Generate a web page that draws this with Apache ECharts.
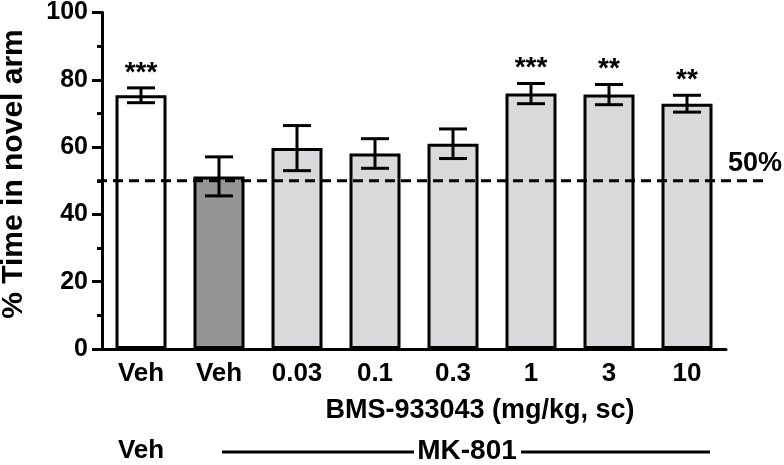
<!DOCTYPE html>
<html>
<head>
<meta charset="utf-8">
<script src="https://cdn.jsdelivr.net/npm/echarts@6/dist/echarts.min.js"></script>
<style>
html,body{margin:0;padding:0;background:#fff;}
#main{width:784px;height:465px;}
</style>
</head>
<body>
<div id="main"></div>
<script>
const categories = ['Veh', 'Veh', '0.03', '0.1', '0.3', '1', '3', '10'];
const means = [75.4, 51.3, 59.7, 58.1, 61.0, 75.9, 75.6, 72.9];
const errors = [2.2, 5.8, 6.7, 4.4, 4.4, 3.0, 3.0, 2.5];
const stars = ['***', '', '', '', '', '***', '**', '**'];
const fills = ['#ffffff', '#959595', '#d9d9db', '#d9d9db', '#d9d9db', '#d9d9db', '#d9d9db', '#d9d9db'];
const yTicks = [0, 20, 40, 60, 80, 100];
const chanceLevel = 50;

const FONT = '"Liberation Sans", Arial, Helvetica, sans-serif';
const chart = echarts.init(document.getElementById('main'), null, {renderer: 'canvas'});

const option = {
  animation: false,
  backgroundColor: '#ffffff',
  grid: {left: 102, right: 58, top: 12, bottom: 116},
  xAxis: {
    type: 'category',
    data: categories,
    axisLine: {lineStyle: {color: '#000', width: 3}},
    axisTick: {show: false},
    axisLabel: {color: '#000', fontFamily: FONT, fontWeight: 'bold', fontSize: 26, margin: 12}
  },
  yAxis: {
    type: 'value',
    min: yTicks[0],
    max: yTicks[yTicks.length - 1],
    interval: yTicks[1] - yTicks[0],
    axisLine: {show: true, lineStyle: {color: '#000', width: 3}},
    axisTick: {show: true, length: 10, lineStyle: {color: '#000', width: 3}},
    minorTick: {show: true, splitNumber: 2, length: 5, lineStyle: {color: '#000', width: 3}},
    splitLine: {show: false},
    axisLabel: {color: '#000', fontFamily: FONT, fontWeight: 'bold', fontSize: 25, margin: 14}
  },
  series: [
    {
      type: 'bar',
      barWidth: 51,
      data: means.map((v, i) => ({value: v, itemStyle: {color: fills[i]}})),
      itemStyle: {borderColor: '#000', borderWidth: 3},
      z: 2
    },
    {
      type: 'custom',
      z: 5,
      data: means.map((v, i) => [i, v, errors[i]]),
      renderItem: function (params, api) {
        const i = api.value(0);
        const m = api.value(1);
        const e = api.value(2);
        const top = api.coord([i, m + e]);
        const bot = api.coord([i, m - e]);
        const hw = 14;
        const style = {stroke: '#000', lineWidth: 3};
        const children = [
          {type: 'line', shape: {x1: top[0], y1: top[1], x2: bot[0], y2: bot[1]}, style: style},
          {type: 'line', shape: {x1: top[0] - hw, y1: top[1], x2: top[0] + hw, y2: top[1]}, style: style},
          {type: 'line', shape: {x1: bot[0] - hw, y1: bot[1], x2: bot[0] + hw, y2: bot[1]}, style: style}
        ];
        const s = stars[params.dataIndex];
        if (s) {
          children.push({
            type: 'text',
            style: {
              text: s, x: top[0], y: top[1] - 15,
              align: 'center', verticalAlign: 'middle',
              font: 'bold 28px ' + FONT, fill: '#000'
            }
          });
        }
        return {type: 'group', children: children};
      }
    }
  ]
};
chart.setOption(option);

const y50 = chart.convertToPixel({yAxisIndex: 0}, chanceLevel);
const xFirst = chart.convertToPixel({xAxisIndex: 0}, 0);
const xSecond = chart.convertToPixel({xAxisIndex: 0}, 1);
const xLast = chart.convertToPixel({xAxisIndex: 0}, categories.length - 1);

chart.setOption({
  graphic: [
    {type: 'line', z: 10, shape: {x1: 97, y1: y50, x2: 767, y2: y50},
     style: {stroke: '#000', lineWidth: 3, lineDash: [10, 6]}},
    {type: 'text', z: 10, style: {text: '50%', x: 728, y: y50 - 4, align: 'left', verticalAlign: 'bottom',
     font: 'bold 27px ' + FONT, fill: '#000'}},
    {type: 'text', style: {text: '% Time in novel arm', x: 0, y: 0, align: 'center', verticalAlign: 'middle',
     font: 'bold 30px ' + FONT, fill: '#000'}, x: 14, y: 174, rotation: Math.PI / 2},
    {type: 'text', style: {text: 'BMS-933043 (mg/kg, sc)', x: 480, y: 411, align: 'center', verticalAlign: 'middle',
     font: 'bold 27px ' + FONT, fill: '#000'}},
    {type: 'text', style: {text: 'Veh', x: xFirst, y: 451, align: 'center', verticalAlign: 'middle',
     font: 'bold 26px ' + FONT, fill: '#000'}},
    {type: 'line', shape: {x1: xSecond + 3, y1: 452, x2: 414, y2: 452}, style: {stroke: '#000', lineWidth: 3}},
    {type: 'text', style: {text: 'MK-801', x: 467, y: 451, align: 'center', verticalAlign: 'middle',
     font: 'bold 28px ' + FONT, fill: '#000'}},
    {type: 'line', shape: {x1: 521, y1: 452, x2: xLast + 23, y2: 452}, style: {stroke: '#000', lineWidth: 3}}
  ]
});
</script>
</body>
</html>
